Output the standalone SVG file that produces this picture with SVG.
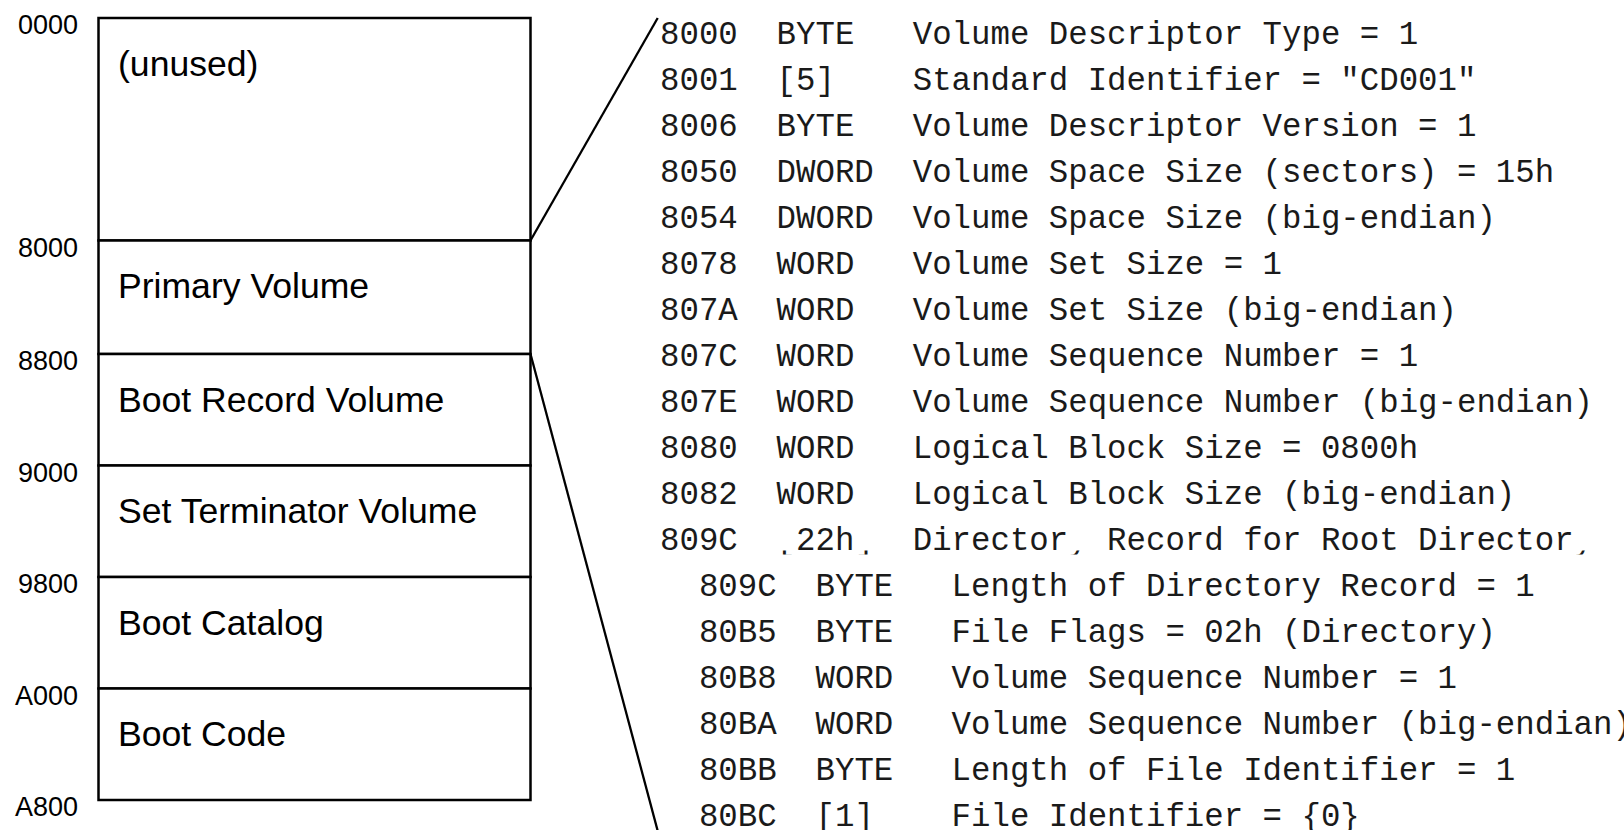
<svg xmlns="http://www.w3.org/2000/svg" width="1624" height="830" viewBox="0 0 1624 830">
  <style>
    .seg { fill: #ffffff; stroke: #000000; stroke-width: 2.5; }
    .seg-label { font-family: "Liberation Sans", Arial, sans-serif; font-size: 35.6px; fill: #000000; }
    .addr { font-family: "Liberation Sans", Arial, sans-serif; font-size: 27px; fill: #000000; text-anchor: end; }
    .link { stroke: #000000; stroke-width: 2.3; fill: none; }
    .field { font-family: "Liberation Mono", "Courier New", monospace; font-size: 32.4px; fill: #1a1a1a; }
  </style>
  <defs>
    <!-- narrow band just under the baseline of the 809C row; only the feet of some glyphs show through -->
    <clipPath id="footBand">
      <rect x="600" y="550.5" width="1024" height="4"/>
    </clipPath>
  </defs>

  <rect width="1624" height="830" fill="#ffffff"/>

  <!-- sector map -->
  <g id="seg-unused">
    <rect class="seg" x="98.5" y="18" width="432" height="222.5"/>
    <text class="seg-label" x="118" y="75.5">(unused)</text>
  </g>
  <g id="seg-primary">
    <rect class="seg" x="98.5" y="240.5" width="432" height="113.5"/>
    <text class="seg-label" x="118" y="298">Primary Volume</text>
  </g>
  <g id="seg-boot-record">
    <rect class="seg" x="98.5" y="354" width="432" height="111.5"/>
    <text class="seg-label" x="118" y="411.5">Boot Record Volume</text>
  </g>
  <g id="seg-terminator">
    <rect class="seg" x="98.5" y="465.5" width="432" height="111.5"/>
    <text class="seg-label" x="118" y="523">Set Terminator Volume</text>
  </g>
  <g id="seg-catalog">
    <rect class="seg" x="98.5" y="577" width="432" height="111.5"/>
    <text class="seg-label" x="118" y="634.5">Boot Catalog</text>
  </g>
  <g id="seg-code">
    <rect class="seg" x="98.5" y="688.5" width="432" height="111.5"/>
    <text class="seg-label" x="118" y="746">Boot Code</text>
  </g>

  <!-- offsets -->
  <g id="offsets">
    <text class="addr" x="78" y="34">0000</text>
    <text class="addr" x="78" y="256.5">8000</text>
    <text class="addr" x="78" y="370">8800</text>
    <text class="addr" x="78" y="481.5">9000</text>
    <text class="addr" x="78" y="593">9800</text>
    <text class="addr" x="78" y="704.5">A000</text>
    <text class="addr" x="78" y="816">A800</text>
  </g>

  <!-- zoom lines from the primary volume descriptor to its field list -->
  <g id="connectors">
    <line class="link" x1="530.5" y1="240.5" x2="657.7" y2="18"/>
    <line class="link" x1="530.5" y1="354" x2="658" y2="832"/>
  </g>

  <!-- primary volume descriptor fields: columns at 0 / 6 / 13 chars, 19.44px per char -->
  <g id="pvd-fields" class="field">
    <text y="43.5"><tspan x="660">8000</tspan><tspan x="776.6">BYTE</tspan><tspan x="912.7">Volume Descriptor Type = 1</tspan></text>
    <text y="89.5"><tspan x="660">8001</tspan><tspan x="776.6">[5]</tspan><tspan x="912.7">Standard Identifier = "CD001"</tspan></text>
    <text y="135.5"><tspan x="660">8006</tspan><tspan x="776.6">BYTE</tspan><tspan x="912.7">Volume Descriptor Version = 1</tspan></text>
    <text y="181.5"><tspan x="660">8050</tspan><tspan x="776.6">DWORD</tspan><tspan x="912.7">Volume Space Size (sectors) = 15h</tspan></text>
    <text y="227.5"><tspan x="660">8054</tspan><tspan x="776.6">DWORD</tspan><tspan x="912.7">Volume Space Size (big-endian)</tspan></text>
    <text y="273.5"><tspan x="660">8078</tspan><tspan x="776.6">WORD</tspan><tspan x="912.7">Volume Set Size = 1</tspan></text>
    <text y="319.5"><tspan x="660">807A</tspan><tspan x="776.6">WORD</tspan><tspan x="912.7">Volume Set Size (big-endian)</tspan></text>
    <text y="365.5"><tspan x="660">807C</tspan><tspan x="776.6">WORD</tspan><tspan x="912.7">Volume Sequence Number = 1</tspan></text>
    <text y="411.5"><tspan x="660">807E</tspan><tspan x="776.6">WORD</tspan><tspan x="912.7">Volume Sequence Number (big-endian)</tspan></text>
    <text y="457.5"><tspan x="660">8080</tspan><tspan x="776.6">WORD</tspan><tspan x="912.7">Logical Block Size = 0800h</tspan></text>
    <text y="503.5"><tspan x="660">8082</tspan><tspan x="776.6">WORD</tspan><tspan x="912.7">Logical Block Size (big-endian)</tspan></text>
    <text y="549.5"><tspan x="660">809C</tspan><tspan x="796">22h</tspan><tspan x="912.7">Director</tspan><tspan x="1107.1">Record for Root Director</tspan></text>
    <g clip-path="url(#footBand)">
      <text y="549.5"><tspan x="776.6">[</tspan><tspan x="854.4">]</tspan><tspan x="1068.2">y</tspan><tspan x="1573.7">y</tspan></text>
    </g>
  </g>

  <!-- root directory record, indented by two chars -->
  <g id="root-dir-fields" class="field">
    <text y="595.5"><tspan x="698.9">809C</tspan><tspan x="815.5">BYTE</tspan><tspan x="951.6">Length of Directory Record = 1</tspan></text>
    <text y="641.5"><tspan x="698.9">80B5</tspan><tspan x="815.5">BYTE</tspan><tspan x="951.6">File Flags = 02h (Directory)</tspan></text>
    <text y="687.5"><tspan x="698.9">80B8</tspan><tspan x="815.5">WORD</tspan><tspan x="951.6">Volume Sequence Number = 1</tspan></text>
    <text y="733.5"><tspan x="698.9">80BA</tspan><tspan x="815.5">WORD</tspan><tspan x="951.6">Volume Sequence Number (big-endian)</tspan></text>
    <text y="779.5"><tspan x="698.9">80BB</tspan><tspan x="815.5">BYTE</tspan><tspan x="951.6">Length of File Identifier = 1</tspan></text>
    <text y="825.5"><tspan x="698.9">80BC</tspan><tspan x="815.5">[1]</tspan><tspan x="951.6">File Identifier = {0}</tspan></text>
  </g>
</svg>
